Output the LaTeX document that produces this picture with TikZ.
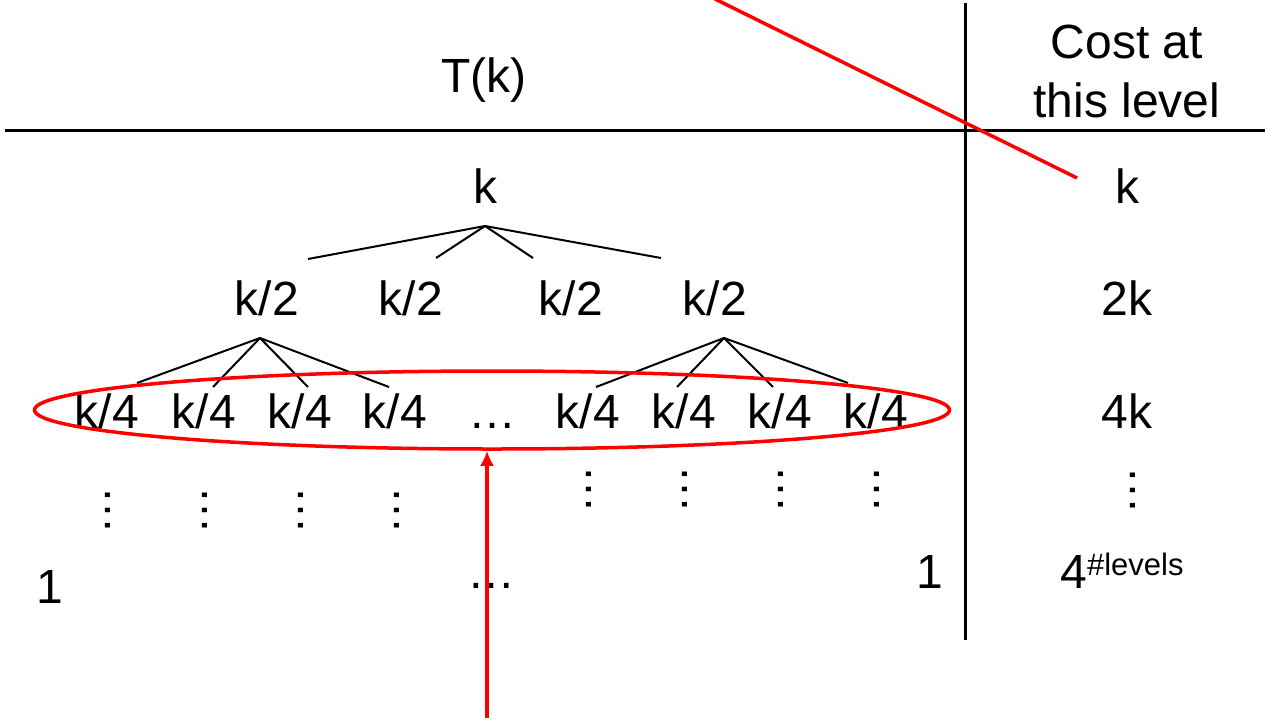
\documentclass[tikz,border=0pt]{standalone}
\usepackage{fontspec}
\setmainfont{Liberation Sans}
\usetikzlibrary{shapes.geometric, arrows, arrows.meta, positioning}
\tikzstyle{term} = [anchor=base, inner sep=0pt, font=\fontsize{48}{58}\selectfont]
\tikzstyle{vdotsrot} = [term, rotate=90]
\tikzstyle{axis} = [line width=3pt, black]
\tikzstyle{branch} = [line width=2pt, black]
\tikzstyle{redmark} = [line width=3.5pt, red]
\tikzstyle{arrow} = [redmark, -{Latex[length=15pt, width=14pt]}]
\usepackage{xcolor}

\begin{document}
\begin{tikzpicture}[x=1pt, y=-1pt]
    \useasboundingbox (0,0) rectangle (1265,726);

    % table lines
    \coordinate (axisleft) at (5,130);
    \coordinate (axisright) at (1265,130);
    \coordinate (axistop) at (965,3);
    \coordinate (axisbottom) at (965,640);
    \draw [axis] (axisleft) -- (axisright);
    \draw [axis] (axistop) -- (axisbottom);

    % headings
    \node (title) [term] at (484,92) {T(k)};
    \node (costhead) [term] at (1127,58) {Cost at};
    \node (costheadb) [term] at (1127,117) {this level};

    % tree
    \node (root) [term] at (485,203) {k};
    \node (half1) [term] at (267,315) {k/2};
    \node (half2) [term] at (411,315) {k/2};
    \node (half3) [term] at (571,315) {k/2};
    \node (half4) [term] at (715,315) {k/2};

    \node (quarter1) [term] at (107,428) {k/4};
    \node (quarter2) [term] at (204,428) {k/4};
    \node (quarter3) [term] at (300,428) {k/4};
    \node (quarter4) [term] at (395,428) {k/4};
    \node (midgap) [term] at (492,428) {…};
    \node (quarter5) [term] at (588,428) {k/4};
    \node (quarter6) [term] at (684,428) {k/4};
    \node (quarter7) [term] at (780,428) {k/4};
    \node (quarter8) [term] at (876,428) {k/4};

    \coordinate (rootfork) at (485,226);
    \coordinate (rootleg1) at (308,259);
    \coordinate (rootleg2) at (436,258);
    \coordinate (rootleg3) at (533,258);
    \coordinate (rootleg4) at (661,258);
    \draw [branch] (rootfork) -- (rootleg1);
    \draw [branch] (rootfork) -- (rootleg2);
    \draw [branch] (rootfork) -- (rootleg3);
    \draw [branch] (rootfork) -- (rootleg4);

    \coordinate (leftfork) at (260,338);
    \coordinate (leftleg1) at (137,383);
    \coordinate (leftleg2) at (213,387);
    \coordinate (leftleg3) at (308,387);
    \coordinate (leftleg4) at (389,387);
    \draw [branch] (leftfork) -- (leftleg1);
    \draw [branch] (leftfork) -- (leftleg2);
    \draw [branch] (leftfork) -- (leftleg3);
    \draw [branch] (leftfork) -- (leftleg4);

    \coordinate (rightfork) at (724,338);
    \coordinate (rightleg1) at (596,387);
    \coordinate (rightleg2) at (677,387);
    \coordinate (rightleg3) at (773,387);
    \coordinate (rightleg4) at (848,383);
    \draw [branch] (rightfork) -- (rightleg1);
    \draw [branch] (rightfork) -- (rightleg2);
    \draw [branch] (rightfork) -- (rightleg3);
    \draw [branch] (rightfork) -- (rightleg4);

    % vertical dots
    \node (lowdots1) [vdotsrot] at (110,510) {…};
    \node (lowdots2) [vdotsrot] at (207,510) {…};
    \node (lowdots3) [vdotsrot] at (303,510) {…};
    \node (lowdots4) [vdotsrot] at (399,510) {…};
    \node (lowdots5) [vdotsrot] at (591,489) {…};
    \node (lowdots6) [vdotsrot] at (687,489) {…};
    \node (lowdots7) [vdotsrot] at (783,489) {…};
    \node (lowdots8) [vdotsrot] at (879,489) {…};

    % leaves
    \node (leafleft) [term] at (50,603) {1};
    \node (leafgap) [term] at (491,588) {…};
    \node (leafright) [term] at (930,588) {1};

    % cost column
    \node (cost0) [term] at (1127,203) {k};
    \node (cost1) [term] at (1127,315) {2k};
    \node (cost2) [term] at (1127,428) {4k};
    \node (costdots) [vdotsrot] at (1135,490) {…};
    \node (costlast) [term] at (1122,588) {4\raisebox{13pt}{\fontsize{31}{33}\selectfont\#levels}};

    % red marks
    \coordinate (slashstart) at (715,-1);
    \coordinate (slashend) at (1077,178);
    \draw [redmark] (slashstart) -- (slashend);

    \node (levelring) [ellipse, draw=red, line width=3.5pt, minimum width=915pt, minimum height=78pt, inner sep=0pt] at (492,410) {};
    \coordinate (arrowfoot) at (487,718);
    \draw [arrow] (arrowfoot) -- (arrowfoot |- levelring.south);
\end{tikzpicture}
\end{document}
